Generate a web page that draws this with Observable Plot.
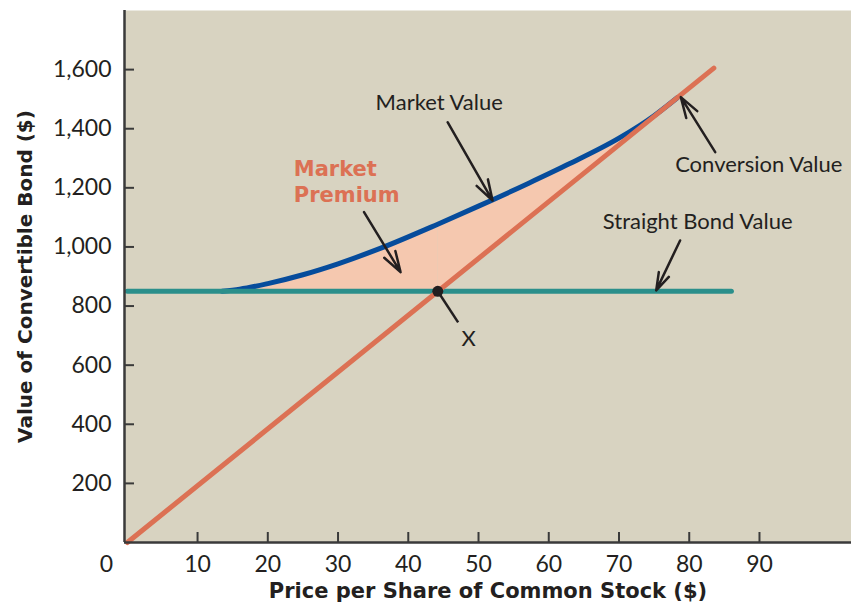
<!DOCTYPE html>
<html>
<head>
<meta charset="utf-8">
<script src="https://cdn.jsdelivr.net/npm/d3@7"></script>
<script src="https://cdn.jsdelivr.net/npm/@observablehq/plot@0.6"></script>
<style>
  html, body { margin: 0; padding: 0; background: #ffffff; }
  #chart { width: 851px; height: 611px; }
</style>
</head>
<body>
<div id="chart"></div>
<script>
// ---- data ----
const xTicks = [10, 20, 30, 40, 50, 60, 70, 80, 90];
const yTicks = [200, 400, 600, 800, 1000, 1200, 1400, 1600];
const cornerLabel = ["0"];

const straightX = [0, 86];
const straightY = [850, 850];

const conversionX = [0, 83.5];
const conversionY = [0, 1605];

const marketX = [13.5, 16, 20, 25, 30, 36, 44.2, 50, 57, 63, 70, 75, 78.3];
const marketY = [850, 857, 876, 906, 943, 995, 1077, 1138, 1214, 1282, 1368, 1444, 1505];

const crossX = [44.2];
const crossY = [850];

const noteText = ["Market Value", "Conversion Value", "Straight Bond Value", "X"];
const noteX = [44.4, 89.9, 81.2, 48.6];
const noteY = [1486, 1276, 1083, 690];

const premiumText = ["Market\nPremium"];
const premiumX = [23.7];
const premiumY = [1225];

const arrowX1 = [45.6, 33.7, 83.7, 78.7];
const arrowY1 = [1422, 1118, 1321, 1022];
const arrowX2 = [52.0, 38.9, 78.8, 75.3];
const arrowY2 = [1157, 915, 1507, 853];

const xLeaderX1 = [44.2], xLeaderY1 = [850], xLeaderX2 = [47.1], xLeaderY2 = [745];

// ---- tables built from the arrays ----
const convSlope = conversionY[1] / conversionX[1];
const straight = straightX.map((x, i) => ({x, y: straightY[i]}));
const conversion = conversionX.map((x, i) => ({x, y: conversionY[i]}));
const market = marketX.map((x, i) => ({x, y: marketY[i]}));
const premium = market.map(d => ({x: d.x, hi: d.y, lo: Math.max(straightY[0], convSlope * d.x)}));
const premLeft = premium.filter(d => d.x <= crossX[0]);
const premRight = premium.filter(d => d.x >= crossX[0]);
const notes = noteText.map((t, i) => ({t, x: noteX[i], y: noteY[i]}));
const arrows = arrowX1.map((x1, i) => ({x1, y1: arrowY1[i], x2: arrowX2[i], y2: arrowY2[i]}));
const leader = [{x1: xLeaderX1[0], y1: xLeaderY1[0], x2: xLeaderX2[0], y2: xLeaderY2[0]}];

const BG = "#d8d3c1", ORANGE = "#dc7154", BLUE = "#064c9c", TEAL = "#2b8f8b",
      FILL = "#f5c8af", INK = "#231f20", AXIS = "#3a3a3a";
const HEAVY = "'DejaVu Sans', sans-serif";

const chart = Plot.plot({
  width: 851,
  height: 611,
  marginLeft: 124,
  marginRight: 0,
  marginTop: 10,
  marginBottom: 69,
  x: {domain: [-0.4, 103.1]},
  y: {domain: [0, 1800]},
  style: {fontFamily: "Lato, 'Open Sans', sans-serif", fontSize: "22px", color: INK, background: "#ffffff"},
  marks: [
    Plot.frame({fill: BG, stroke: "none"}),
    Plot.areaY(premLeft, {x: "x", y1: "lo", y2: "hi", fill: FILL, curve: "monotone-x"}),
    Plot.areaY(premRight, {x: "x", y1: "lo", y2: "hi", fill: FILL, curve: "monotone-x"}),
    Plot.line(market, {x: "x", y: "y", stroke: BLUE, strokeWidth: 5, curve: "monotone-x"}),
    Plot.line(straight, {x: "x", y: "y", stroke: TEAL, strokeWidth: 5}),
    Plot.line(conversion, {x: "x", y: "y", stroke: ORANGE, strokeWidth: 5}),
    Plot.arrow(arrows, {x1: "x1", y1: "y1", x2: "x2", y2: "y2", stroke: INK, strokeWidth: 2.5, headLength: 13, headAngle: 35}),
    Plot.link(leader, {x1: "x1", y1: "y1", x2: "x2", y2: "y2", stroke: INK, strokeWidth: 2.5}),
    Plot.dot(crossX.map((x, i) => ({x, y: crossY[i]})), {x: "x", y: "y", r: 5.5, fill: INK, stroke: "none"}),
    Plot.text(notes, {x: "x", y: "y", text: "t", fontSize: 22, fill: INK}),
    Plot.text(premiumText, {x: () => premiumX[0], y: () => premiumY[0], text: d => d, textAnchor: "start", fontSize: 21, fontWeight: "bold", fontFamily: HEAVY, fill: ORANGE, lineHeight: 1.25}),
    // axes
    Plot.ruleY([0], {stroke: AXIS, strokeWidth: 2.5}),
    Plot.ruleX([-0.4], {stroke: AXIS, strokeWidth: 2.5}),
    Plot.axisX(xTicks, {tickSize: -10, text: null, stroke: AXIS, strokeWidth: 2, label: null}),
    Plot.axisX(xTicks, {tickSize: 0, tickPadding: 13, label: null, fill: INK, fontSize: 23}),
    Plot.axisY(yTicks, {tickSize: -10, text: null, stroke: AXIS, strokeWidth: 2, label: null}),
    Plot.axisY(yTicks, {tickSize: 0, tickPadding: 13, label: null, fill: INK, fontSize: 23, tickFormat: d3.format(",")}),
    Plot.text(cornerLabel, {x: () => -0.4, y: () => 0, text: d => d, dx: -18, dy: 22, fontSize: 23, fill: INK}),
    Plot.text(["Price per Share of Common Stock ($)"], {frameAnchor: "bottom", text: d => d, dy: 55, fontSize: 21, fontWeight: "bold", fontFamily: HEAVY, fill: INK}),
    Plot.text(["Value of Convertible Bond ($)"], {frameAnchor: "left", textAnchor: "middle", text: d => d, dx: -99, rotate: -90, fontSize: 20, fontWeight: "bold", fontFamily: HEAVY, fill: INK})
  ]
});
document.getElementById("chart").appendChild(chart);
</script>
</body>
</html>
